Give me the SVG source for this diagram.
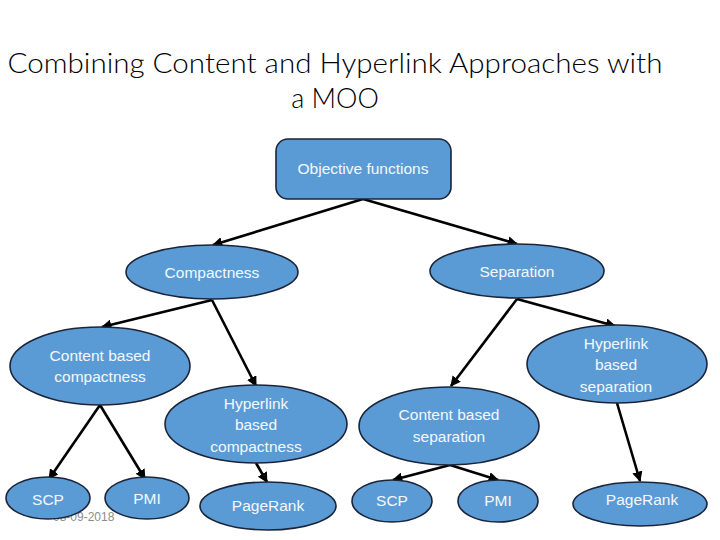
<svg xmlns="http://www.w3.org/2000/svg" width="720" height="540" viewBox="0 0 720 540">
<style>
.t{font-family:Lato,"Open Sans","Liberation Sans",sans-serif;font-weight:300;font-size:27px;fill:#000;text-anchor:middle}
.n{fill:#5b9bd5;stroke:#1b2438;stroke-width:1.6}
.l{font-family:"Liberation Sans",Arial,sans-serif;font-size:15.5px;fill:#f4f8fc;text-anchor:middle}
.c line{stroke:#000;stroke-width:2.6}
.f{font-family:"Liberation Sans",Arial,sans-serif;font-size:12px;fill:#8c8c8c}
</style>
<defs>
<marker id="a" viewBox="0 0 10 10" refX="9" refY="5" markerWidth="4" markerHeight="4" orient="auto" markerUnits="strokeWidth">
<path d="M0,0 L10,5 L0,10 z" fill="#000"/>
</marker>
</defs>
<rect width="720" height="540" fill="#fff"/>
<text class="t" x="335" y="73" textLength="655" lengthAdjust="spacingAndGlyphs">Combining Content and Hyperlink Approaches with</text>
<text class="t" x="335" y="108">a MOO</text>
<text class="f" x="53" y="521">08-09-2018</text>
<g class="c">
<line x1="363" y1="199" x2="213" y2="245" marker-end="url(#a)"/>
<line x1="363" y1="199" x2="517" y2="244" marker-end="url(#a)"/>
<line x1="212" y1="300" x2="102" y2="327" marker-end="url(#a)"/>
<line x1="212" y1="300" x2="256" y2="386" marker-end="url(#a)"/>
<line x1="517" y1="299" x2="451" y2="386" marker-end="url(#a)"/>
<line x1="517" y1="299" x2="615" y2="326" marker-end="url(#a)"/>
<line x1="100" y1="405" x2="49" y2="479" marker-end="url(#a)"/>
<line x1="100" y1="405" x2="145" y2="479" marker-end="url(#a)"/>
<line x1="256" y1="463" x2="267" y2="482" marker-end="url(#a)"/>
<line x1="450" y1="465" x2="393" y2="480" marker-end="url(#a)"/>
<line x1="450" y1="465" x2="498" y2="480" marker-end="url(#a)"/>
<line x1="617" y1="403" x2="640" y2="481" marker-end="url(#a)"/>
</g>
<g id="objective"><rect class="n" x="276" y="139" width="175" height="60" rx="12"/><text class="l" x="363" y="174">Objective functions</text></g>
<g id="compactness"><ellipse class="n" cx="212" cy="272" rx="86" ry="27"/><text class="l" x="212" y="278">Compactness</text></g>
<g id="separation"><ellipse class="n" cx="517" cy="271" rx="87" ry="27"/><text class="l" x="517" y="277">Separation</text></g>
<g id="cbc"><ellipse class="n" cx="100" cy="366" rx="90" ry="39"/><text class="l" x="100" y="361">Content based</text><text class="l" x="100" y="382">compactness</text></g>
<g id="hbc"><ellipse class="n" cx="256" cy="424" rx="91" ry="39"/><text class="l" x="256" y="409">Hyperlink</text><text class="l" x="256" y="430">based</text><text class="l" x="256" y="452">compactness</text></g>
<g id="cbs"><ellipse class="n" cx="449" cy="426" rx="90" ry="39"/><text class="l" x="449" y="420">Content based</text><text class="l" x="449" y="442">separation</text></g>
<g id="hbs"><ellipse class="n" cx="617" cy="364" rx="90" ry="39"/><text class="l" x="616" y="349">Hyperlink</text><text class="l" x="616" y="370">based</text><text class="l" x="616" y="392">separation</text></g>
<g id="scp1"><ellipse class="n" cx="48" cy="498" rx="42" ry="21"/><text class="l" x="48" y="505">SCP</text></g>
<g id="pmi1"><ellipse class="n" cx="147" cy="498" rx="42" ry="21"/><text class="l" x="147" y="504">PMI</text></g>
<g id="pr1"><ellipse class="n" cx="268" cy="506" rx="68" ry="24"/><text class="l" x="268" y="511">PageRank</text></g>
<g id="scp2"><ellipse class="n" cx="392" cy="501" rx="40" ry="21"/><text class="l" x="392" y="506">SCP</text></g>
<g id="pmi2"><ellipse class="n" cx="498" cy="501" rx="40" ry="21"/><text class="l" x="498" y="506">PMI</text></g>
<g id="pr2"><ellipse class="n" cx="640" cy="504" rx="67" ry="22"/><text class="l" x="642" y="505">PageRank</text></g>
</svg>
